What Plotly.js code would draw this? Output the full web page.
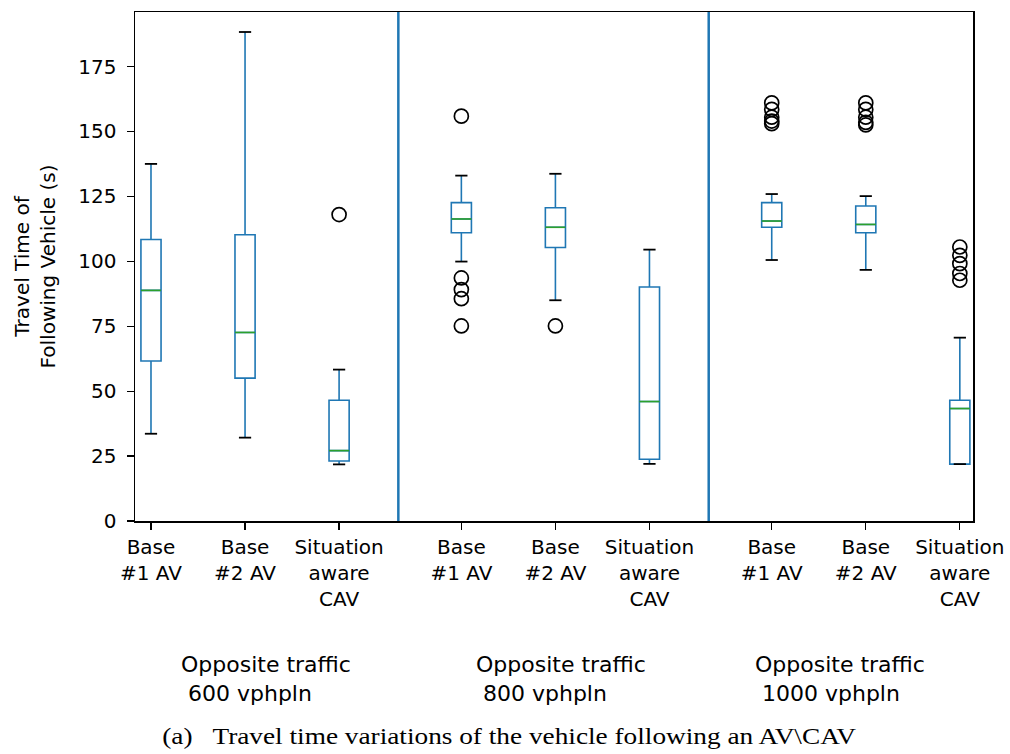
<!DOCTYPE html>
<html><head><meta charset="utf-8">
<script src="https://cdn.plot.ly/plotly-3.0.1.min.js"></script>
<style>body{margin:0;background:#fff}#chart{width:1010px;height:754px}</style>
</head><body><div id="chart"></div>
<script>
// Data
const groups = ["Opposite traffic<br> 600 vphpln", "Opposite traffic<br> 800 vphpln", "Opposite traffic<br> 1000 vphpln"];
const categories = ["Base<br>#1 AV", "Base<br>#2 AV", "Situation<br>aware<br>CAV"];
const lowerFence = [33.6, 32.1, 21.8,  99.9, 85.0, 22.0,  100.5, 96.7, 21.9];
const q1Values   = [61.6, 55.0, 23.1, 111.0, 105.3, 23.8, 113.1, 111.0, 21.9];
const medians    = [88.8, 72.6, 27.1, 116.3, 113.1, 46.0, 115.5, 114.2, 43.3];
const q3Values   = [108.4, 110.2, 46.5, 122.6, 120.6, 90.1, 122.6, 121.3, 46.5];
const upperFence = [137.5, 188.3, 58.3, 133.0, 133.7, 104.5, 125.9, 125.1, 70.6];
const outliers = [
  [], [], [118.0],
  [155.9, 93.6, 89.1, 85.6, 75.1], [75.1], [],
  [161.0, 158.5, 155.5, 154.0, 153.0], [161.0, 158.5, 155.5, 153.5, 152.5], [105.5, 102.3, 99.1, 95.3, 92.7]
];
const yTicks = [0, 25, 50, 75, 100, 125, 150, 175];
const yTitle = 'Travel Time of<br>Following Vehicle (s)';
const caption = '(a)   Travel time variations of the vehicle following an AV\\CAV';

// Layout helpers
const GAP = 0.3;
const xs = [];
groups.forEach((g, gi) => categories.forEach((c, ci) => xs.push(gi * (categories.length + GAP) + ci)));
const tickText = [];
groups.forEach(() => categories.forEach(c => tickText.push(c)));
const BLUE = '#1f77b4';
const boxHalf = 0.107, capHalf = 0.065;

const boxTrace = {
  type: 'box', x: xs, q1: q1Values, median: medians, q3: q3Values,
  lowerfence: lowerFence, upperfence: upperFence,
  width: 2 * boxHalf, whiskerwidth: 0, boxpoints: false,
  line: {color: BLUE, width: 1.6}, fillcolor: 'rgba(255,255,255,0)',
  hoverinfo: 'skip', showlegend: false
};
const medX = [], medY = [], capX = [], capY = [], outX = [], outY = [];
xs.forEach((x, i) => {
  medX.push(x - boxHalf, x + boxHalf, null); medY.push(medians[i], medians[i], null);
  capX.push(x - capHalf, x + capHalf, null, x - capHalf, x + capHalf, null);
  capY.push(lowerFence[i], lowerFence[i], null, upperFence[i], upperFence[i], null);
  outliers[i].forEach(v => { outX.push(x); outY.push(v); });
});
const medTrace = {type: 'scatter', mode: 'lines', x: medX, y: medY, line: {color: '#2ca02c', width: 1.6}, showlegend: false, hoverinfo: 'skip'};
const capTrace = {type: 'scatter', mode: 'lines', x: capX, y: capY, line: {color: '#000', width: 1.8}, showlegend: false, hoverinfo: 'skip'};
const outTrace = {type: 'scatter', mode: 'markers', x: outX, y: outY,
  marker: {symbol: 'circle-open', size: 14, color: '#000', line: {width: 1.7, color: '#000'}}, showlegend: false, hoverinfo: 'skip'};

const shapes = [];
for (let g = 1; g < groups.length; g++) {
  const xv = (xs[g * categories.length - 1] + xs[g * categories.length]) / 2 - 0.02;
  shapes.push({type: 'line', xref: 'x', yref: 'paper', x0: xv, x1: xv, y0: 0, y1: 1, line: {color: BLUE, width: 2.5}});
}
const FONT = 'DejaVu Sans, sans-serif';
const groupX = [0.053, 0.405, 0.738];
const annotations = groups.map((g, gi) => ({xref: 'paper', yref: 'paper', x: groupX[gi], y: -0.254, yanchor: 'top', xanchor: 'left',
  showarrow: false, text: g, align: 'left', font: {family: FONT, size: 22, color: '#000'}}));
annotations.push({xref: 'paper', yref: 'paper', x: 0.447, y: -0.392, yanchor: 'top', xanchor: 'center', showarrow: false,
  text: caption, font: {family: 'Liberation Serif, Times New Roman, serif', size: 24, color: '#000'}});

const layout = {
  width: 1010, height: 754, margin: {l: 135, r: 37, t: 12, b: 233},
  paper_bgcolor: '#fff', plot_bgcolor: '#fff', showlegend: false,
  font: {family: FONT, size: 20, color: '#000'},
  xaxis: {range: [-0.17, 8.74], tickvals: xs, ticktext: tickText, ticks: 'outside', ticklen: 7, tickwidth: 1.3, tickcolor: '#000',
    showgrid: false, zeroline: false, showline: true, mirror: true, linecolor: '#000', linewidth: 1.5, tickangle: 0,
    tickfont: {family: FONT, size: 20, color: '#000'}},
  yaxis: {range: [0, 196], tickvals: yTicks, ticks: 'outside', ticklen: 7, tickwidth: 1.3, tickcolor: '#000',
    showgrid: false, zeroline: false, showline: true, mirror: true, linecolor: '#000', linewidth: 1.5,
    ticklabelstandoff: 6,
    tickfont: {family: FONT, size: 20, color: '#000'},
    title: {text: yTitle, font: {family: FONT, size: 20, color: '#000'}, standoff: 17}},
  shapes: shapes, annotations: annotations
};
Plotly.newPlot('chart', [boxTrace, medTrace, capTrace, outTrace], layout, {displayModeBar: false, staticPlot: true}).then(gd => {
  // caption in the reference is horizontally stretched
  const anns = gd.querySelectorAll('.annotation-text');
  const cap = anns[anns.length - 1];
  if (cap) {
    const bb = cap.getBBox();
    const cx = bb.x + bb.width / 2;
    const s = 695 / bb.width;
    cap.setAttribute('transform', 'translate(' + cx + ',0) scale(' + s + ',1) translate(' + (-cx) + ',0)');
  }
});
</script></body></html>
